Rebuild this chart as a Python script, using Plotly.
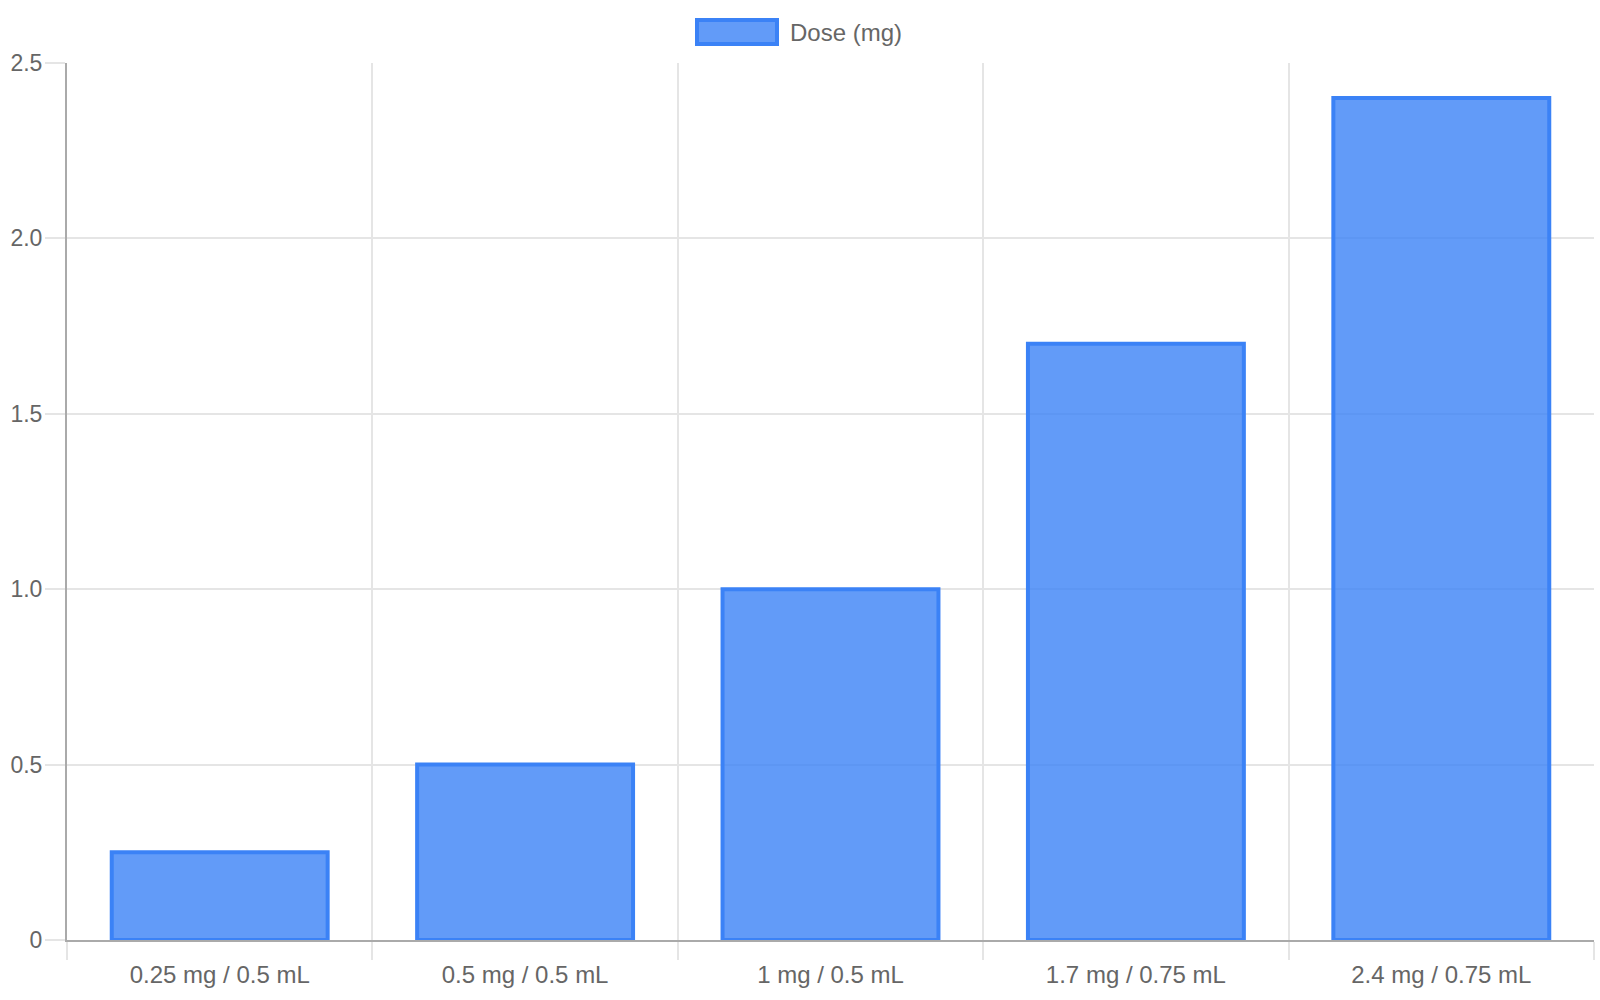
import plotly.graph_objects as go

# data
doses = ["0.25 mg / 0.5 mL", "0.5 mg / 0.5 mL", "1 mg / 0.5 mL", "1.7 mg / 0.75 mL", "2.4 mg / 0.75 mL"]
dose_mg = [0.25, 0.5, 1.0, 1.7, 2.4]
y_ticks = [0, 0.5, 1.0, 1.5, 2.0, 2.5]
y_labels = ["0", "0.5", "1.0", "1.5", "2.0", "2.5"]
series_name = "Dose (mg)"

W, H = 1600, 1000
L, R, T, B = 67, 6, 63, 60
font = dict(family="Liberation Sans, Arial, sans-serif", size=24, color="#666666")
grid = "#e5e5e5"
axis = "#aaaaaa"

fig = go.Figure()
fig.add_trace(go.Bar(
    x=doses, y=dose_mg, name=series_name,
    marker=dict(color="rgba(59,130,246,0.8)", line=dict(color="#3b82f6", width=4)),
    width=0.707, showlegend=False,
))

# legend drawn by hand so it looks like the wide box of the original
pw, ph = W - L - R, H - T - B
px = lambda v: (v - L) / pw
py = lambda v: (H - B - v) / ph
fig.add_shape(type="rect", xref="paper", yref="paper",
              x0=px(697), x1=px(777), y0=py(44), y1=py(20),
              fillcolor="rgba(59,130,246,0.8)", line=dict(color="#3b82f6", width=4))
fig.add_annotation(text=series_name, xref="paper", yref="paper", x=px(788), y=py(32),
                   xanchor="left", yanchor="middle", showarrow=False, font=font)

fig.update_layout(
    width=W, height=H,
    margin=dict(l=L, r=R, t=T, b=B),
    paper_bgcolor="white", plot_bgcolor="white",
    font=font,
    xaxis=dict(type="category", tickson="boundaries", showgrid=True, gridcolor=grid, gridwidth=2,
               ticks="outside", ticklen=18, tickwidth=2, tickcolor=grid, ticklabelstandoff=12,
               showline=True, linecolor=axis, linewidth=2, zeroline=False, automargin=False,
               range=[-0.5, 4.5], tickfont=font),
    yaxis=dict(range=[0, 2.5], tickvals=y_ticks, ticktext=y_labels,
               showgrid=True, gridcolor=grid, gridwidth=2,
               ticks="outside", ticklen=20, tickwidth=2, tickcolor=grid, ticklabelstandoff=-2,
               showline=True, linecolor=axis, linewidth=2, zeroline=False, automargin=False,
               tickfont=dict(font, size=23)),
)

# page has a default 8px body margin; drop it so the figure sits at 0,0
fig.write_html("out.html", config={"displayModeBar": False},
               post_script="document.body.style.margin='0';")
